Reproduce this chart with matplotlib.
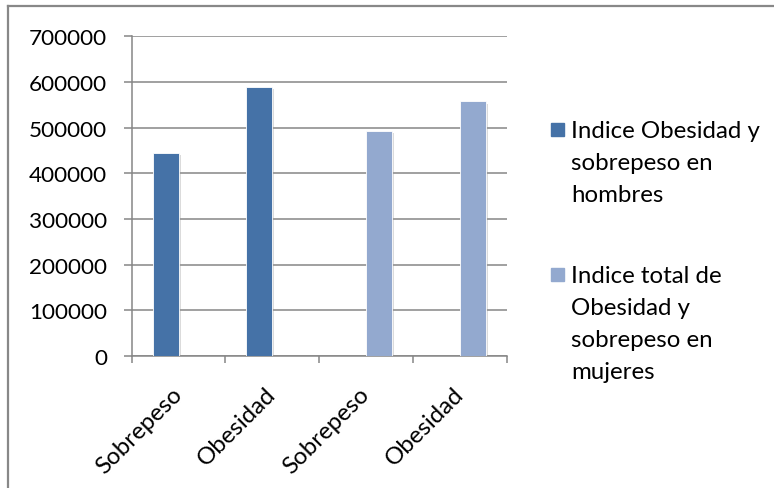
import matplotlib.pyplot as plt
from matplotlib.lines import Line2D
from matplotlib.patches import Rectangle
import matplotlib.patheffects as pe

categorias = ["Sobrepeso", "Obesidad", "Sobrepeso", "Obesidad"]
hombres = [444000, 588000, None, None]
mujeres = [None, None, 493000, 557000]
series = [
    ("Indice Obesidad y\nsobrepeso en\nhombres", hombres, "#4572A7"),
    ("Indice total de\nObesidad y\nsobrepeso en\nmujeres", mujeres, "#93A9CF"),
]
yticks = [0, 100000, 200000, 300000, 400000, 500000, 600000, 700000]

plt.rcParams["font.family"] = ["Lato", "DejaVu Sans"]
gris = "#868686"

fig = plt.figure(figsize=(7.74, 4.89), dpi=100)
ax = fig.add_axes([0.170, 0.270, 0.485, 0.654])

ancho = 0.277
sombra = [pe.SimplePatchShadow(offset=(1.5, -1.5), shadow_rgbFace="#999999", alpha=0.35), pe.Normal()]
for i, (nombre, valores, color) in enumerate(series):
    desplaz = -ancho / 2 if i == 0 else ancho / 2
    xs = [k + desplaz for k, v in enumerate(valores) if v is not None]
    ys = [v for v in valores if v is not None]
    barras = ax.bar(xs, ys, width=ancho, color=color, edgecolor="white",
                    linewidth=0.6, zorder=3)
    for b in barras:
        b.set_path_effects(sombra)

ax.set_xlim(-0.5, 3.5)
ax.set_ylim(0, 700000)
ax.set_yticks(yticks)
ax.set_yticklabels([str(v) for v in yticks], fontsize=16.2)
ax.yaxis.grid(True, color=gris, linewidth=1.1, zorder=0)
ax.set_axisbelow(True)

# divisiones entre categorías como ticks mayores, etiquetas como menores
ax.set_xticks([-0.5, 0.5, 1.5, 2.5, 3.5])
ax.set_xticklabels([])
ax.set_xticks(range(len(categorias)), minor=True)
ax.set_xticklabels(categorias, minor=True, rotation=45, ha="right",
                   va="center", rotation_mode="anchor", fontsize=17.3)
ax.tick_params(axis="x", which="minor", length=0, pad=24.5)
ax.tick_params(axis="x", which="major", length=5, width=1.1, color=gris, direction="out")
ax.tick_params(axis="y", length=6, width=1.1, color=gris, pad=11.5)

for lado in ("top", "right"):
    ax.spines[lado].set_visible(False)
for lado in ("left", "bottom"):
    ax.spines[lado].set_color(gris)
    ax.spines[lado].set_linewidth(1.1)

# leyenda a la derecha: cuadro de color + texto en varias líneas
centros = [130.5, 275]
topes = [121, 266]
for (nombre, valores, color), yc, yt in zip(series, centros, topes):
    fig.patches.append(Rectangle((551 / 774, 1 - (yc + 6.5) / 489), 13 / 774, 13 / 489,
                                 transform=fig.transFigure, color=color))
    fig.text(571 / 774, 1 - yt / 489, nombre, fontsize=17.3, va="top", ha="left",
             linespacing=1.64)

# marco exterior
borde = "#888888"
fig.lines.append(Line2D([8 / 774, 8 / 774], [0, 1 - 7 / 489], transform=fig.transFigure,
                        color=borde, linewidth=1.6))
fig.lines.append(Line2D([8 / 774, 1], [1 - 7 / 489, 1 - 7 / 489], transform=fig.transFigure,
                        color=borde, linewidth=1.6))

fig.savefig("out.png", dpi=100)
